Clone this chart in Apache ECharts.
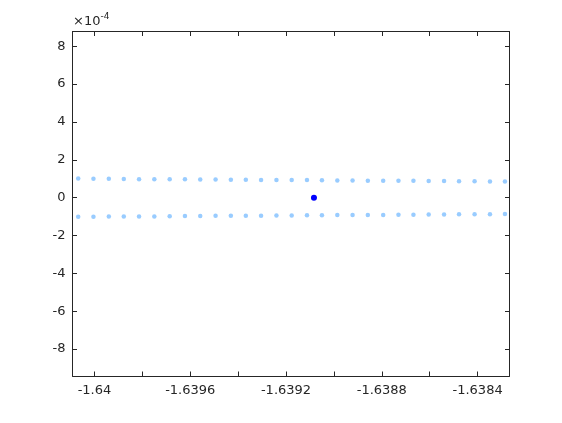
<!DOCTYPE html>
<html>
<head>
<meta charset="utf-8">
<script src="https://cdn.jsdelivr.net/npm/echarts@6/dist/echarts.min.js"></script>
<style>
html,body{margin:0;padding:0;background:#fff;}
#chart{width:562px;height:423px;}
</style>
</head>
<body>
<div id="chart"></div>
<script>
// x positions (real part)
var xVals = [-1.6400679, -1.6400042, -1.6399400, -1.6398775, -1.6398138, -1.6397500, -1.6396858, -1.6396221, -1.6395583, -1.6394942,
             -1.6394304, -1.6393679, -1.6393042, -1.6392400, -1.6391763, -1.6391125, -1.6390500, -1.6389858, -1.6389221, -1.6388583,
             -1.6387942, -1.6387304, -1.6386679, -1.6386042, -1.6385400, -1.6384775, -1.6384125, -1.6383483, -1.6382858];
// imaginary parts in units of 1e-4
var upperY = [1.01, 1.00, 1.00, 0.99, 0.98, 0.98, 0.97, 0.97, 0.96, 0.96,
              0.95, 0.95, 0.94, 0.94, 0.93, 0.93, 0.92, 0.91, 0.91, 0.90,
              0.90, 0.89, 0.89, 0.88, 0.88, 0.87, 0.87, 0.86, 0.85];
var lowerY = [-1.01, -1.01, -1.00, -1.00, -0.99, -0.99, -0.98, -0.97, -0.97, -0.96,
              -0.96, -0.95, -0.95, -0.94, -0.94, -0.93, -0.93, -0.92, -0.92, -0.91,
              -0.91, -0.90, -0.90, -0.89, -0.89, -0.88, -0.88, -0.87, -0.86];
var centerPoint = [[-1.6390833, 0]];
var xLabelTicks = [-1.64, -1.6396, -1.6392, -1.6388, -1.6384];
var xMinorTicks = [-1.64, -1.6398, -1.6396, -1.6394, -1.6392, -1.639, -1.6388, -1.6386, -1.6384];
var yTicks = [-8, -6, -4, -2, 0, 2, 4, 6, 8];

var upperData = xVals.map(function(x, i){ return [x, upperY[i]]; });
var lowerData = xVals.map(function(x, i){ return [x, lowerY[i]]; });

var axisColor = '#262626';
var font = 'DejaVu Sans';
function baseX(pos, showLabel){
  return {
    type: 'value', position: pos, min: -1.6400917, max: -1.6382667,
    axisLine: {show: true, onZero: false, lineStyle: {color: axisColor, width: 1}},
    axisTick: {show: true, inside: true, length: 4.5, customValues: xMinorTicks, lineStyle: {color: axisColor}},
    axisLabel: {show: showLabel, customValues: xLabelTicks, margin: 8, color: axisColor, fontSize: 13, fontFamily: font,
      formatter: function(v){ return String(Number(v.toFixed(4))); }},
    splitLine: {show: false}
  };
}
function baseY(pos, showLabel){
  return {
    type: 'value', position: pos, min: -9.42, max: 8.78,
    axisLine: {show: true, onZero: false, lineStyle: {color: axisColor, width: 1}},
    axisTick: {show: true, inside: true, length: 4.5, customValues: yTicks, lineStyle: {color: axisColor}},
    axisLabel: {show: showLabel, customValues: yTicks, margin: 7, color: axisColor, fontSize: 13, fontFamily: font,
      formatter: function(v){ return String(Math.round(v)); }},
    splitLine: {show: false}
  };
}

var chart = echarts.init(document.getElementById('chart'), null, {renderer: 'canvas'});
chart.setOption({
  backgroundColor: '#ffffff',
  animation: false,
  grid: {left: 72.5, right: 52.5, top: 31.5, bottom: 47, containLabel: false},
  xAxis: [baseX('bottom', true), baseX('top', false)],
  yAxis: [baseY('left', true), baseY('right', false)],
  graphic: [{
    type: 'text', left: 73, top: 12,
    style: {
      text: '{a|\u00d710}{b|-4}',
      rich: {
        a: {fontSize: 13, fontFamily: font, fill: axisColor, verticalAlign: 'bottom', lineHeight: 16},
        b: {fontSize: 9, fontFamily: font, fill: axisColor, verticalAlign: 'top', padding: [0,0,6,0], lineHeight: 16}
      }
    }
  }],
  series: [
    {type: 'scatter', data: upperData, symbol: 'circle', symbolSize: 4.5, itemStyle: {color: '#99CCFF', opacity: 1}, silent: true},
    {type: 'scatter', data: lowerData, symbol: 'circle', symbolSize: 4.5, itemStyle: {color: '#99CCFF', opacity: 1}, silent: true},
    {type: 'scatter', data: centerPoint, symbol: 'circle', symbolSize: 6, itemStyle: {color: '#0000FF', opacity: 1}, silent: true, z: 5}
  ]
});
</script>
</body>
</html>
